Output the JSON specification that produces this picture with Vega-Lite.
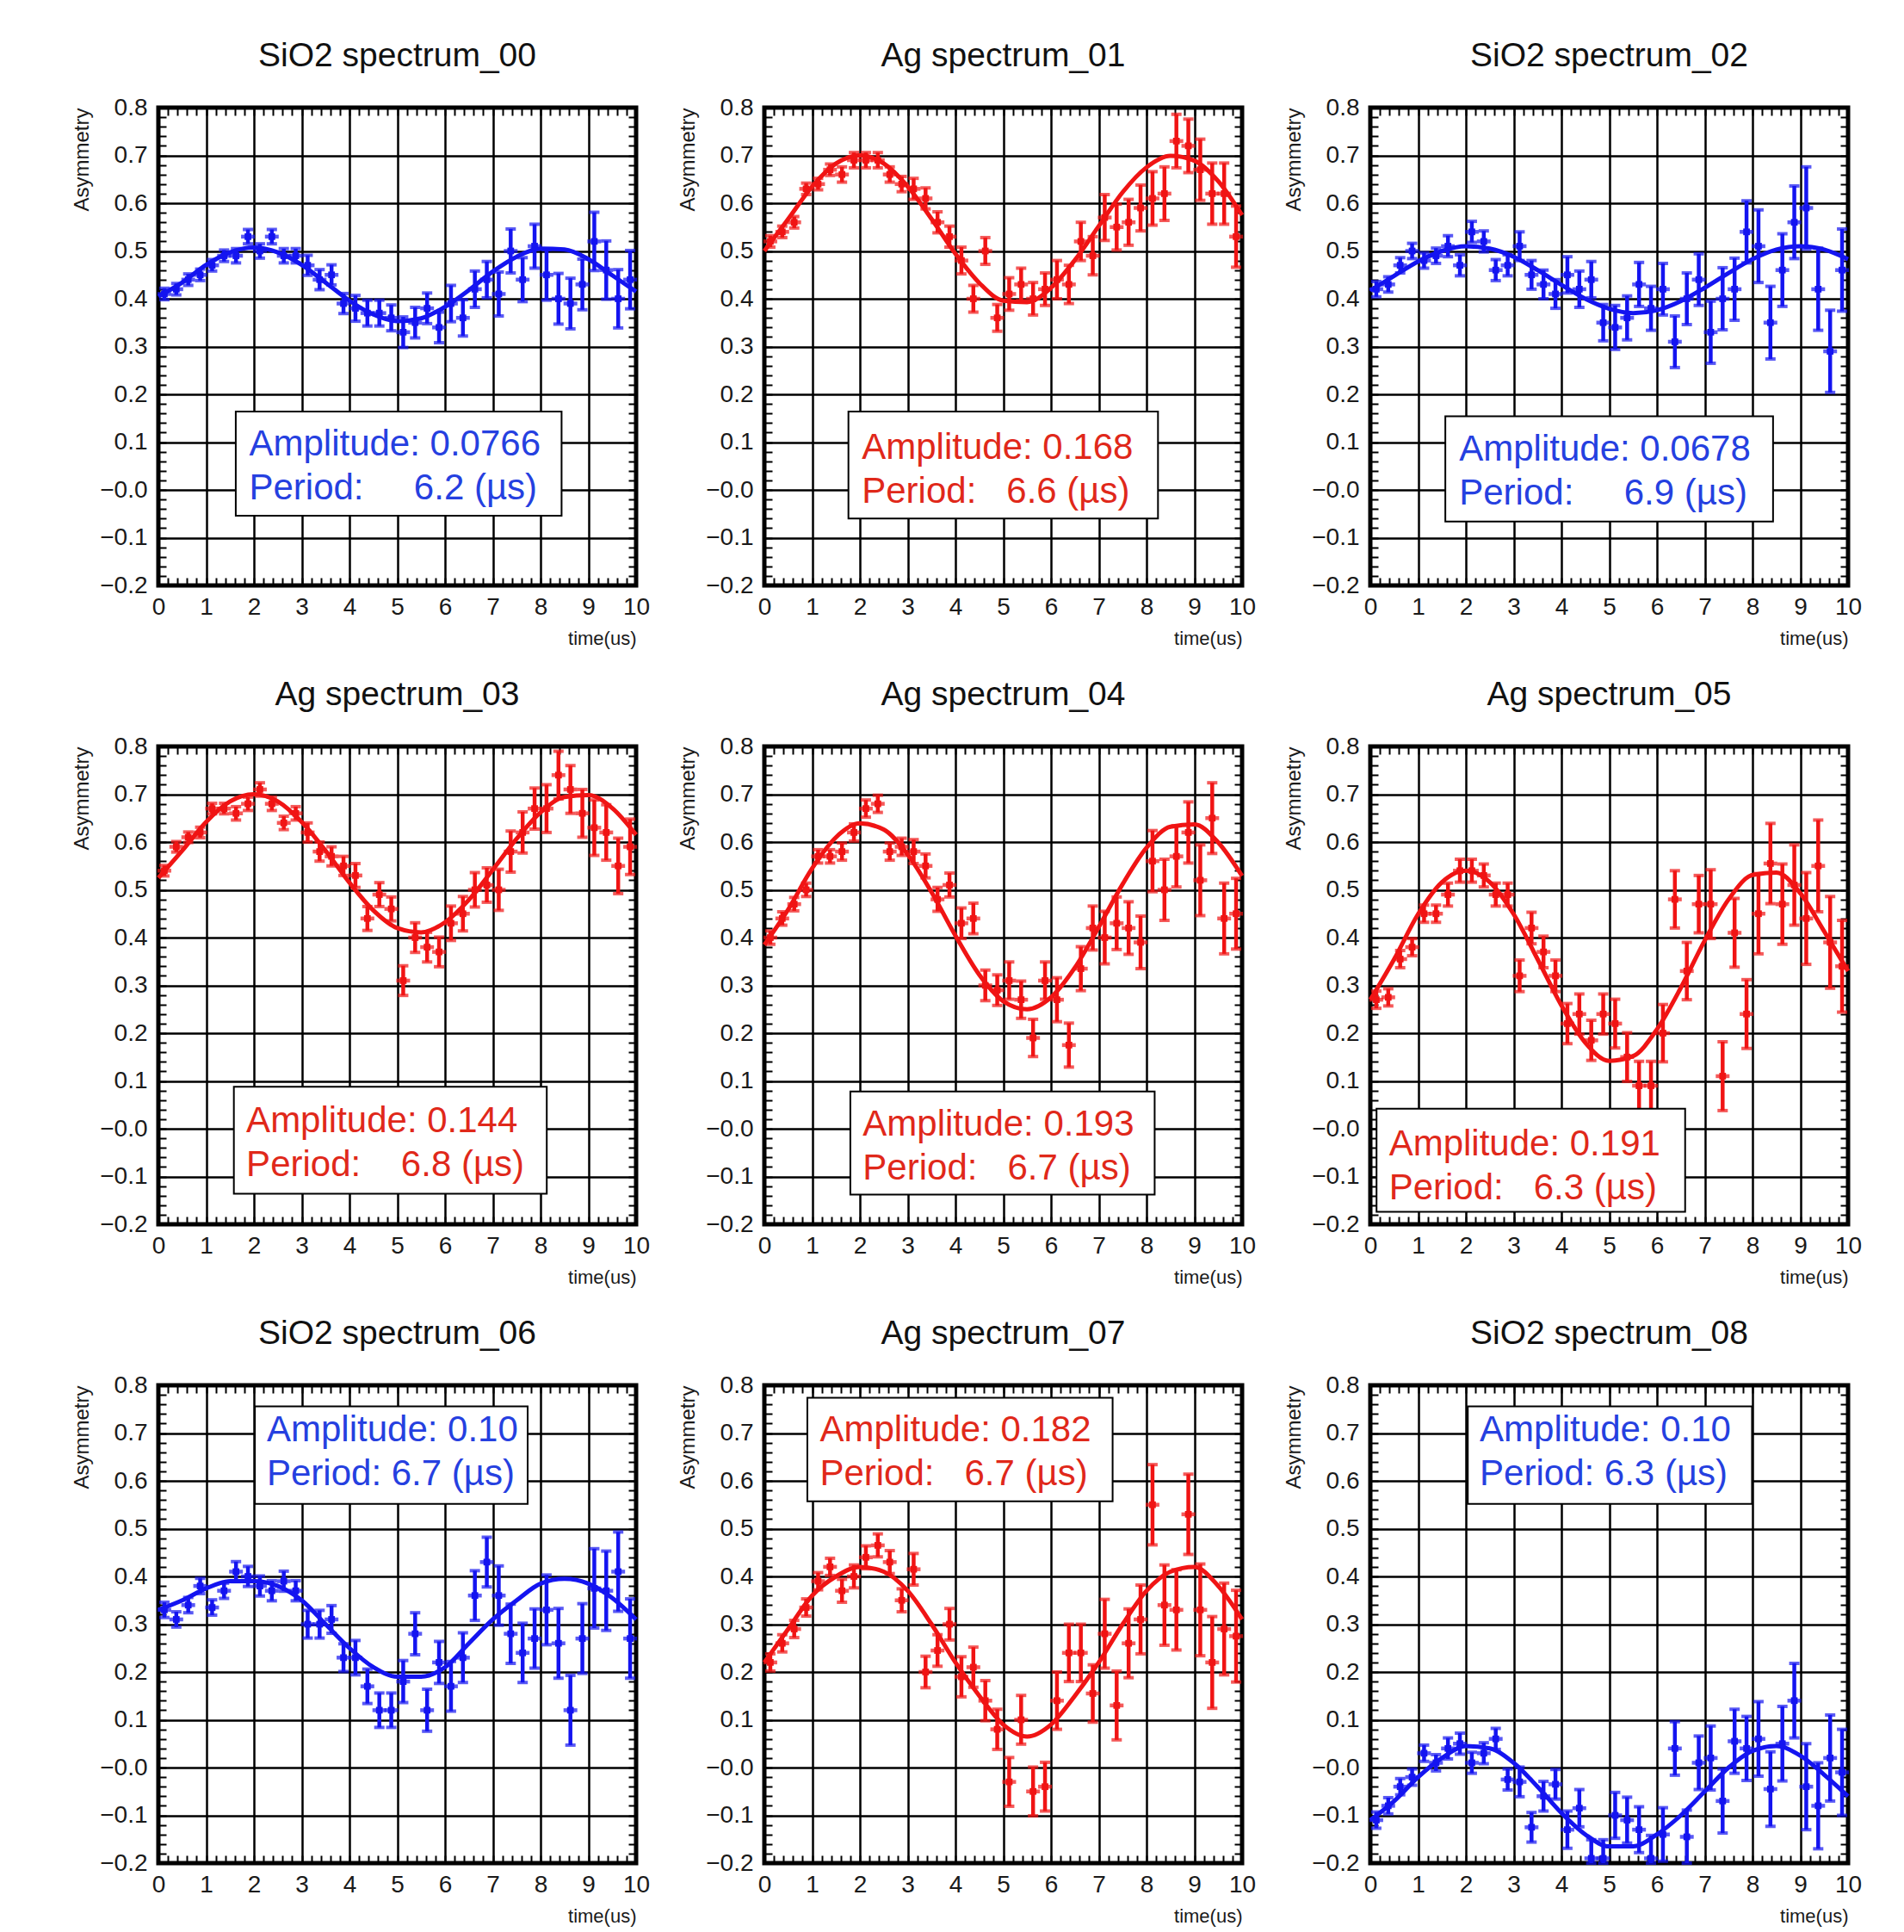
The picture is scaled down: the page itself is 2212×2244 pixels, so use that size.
{
"$schema":"https://vega.github.io/schema/vega-lite/v6.json",
"background":"white",
"padding":{"left":81,"top":43,"right":10,"bottom":2},
"datasets":{
"pts":[
{"p":"00","t":0.125,"y":0.41,"e":0.012},{"p":"00","t":0.375,"y":0.42,"e":0.012},{"p":"00","t":0.625,"y":0.44,"e":0.012},{"p":"00","t":0.875,"y":0.45,"e":0.012},{"p":"00","t":1.125,"y":0.47,"e":0.012},{"p":"00","t":1.375,"y":0.49,"e":0.012},{"p":"00","t":1.625,"y":0.49,"e":0.015},{"p":"00","t":1.875,"y":0.53,"e":0.015},{"p":"00","t":2.125,"y":0.50,"e":0.015},{"p":"00","t":2.375,"y":0.53,"e":0.015},{"p":"00","t":2.625,"y":0.49,"e":0.015},{"p":"00","t":2.875,"y":0.49,"e":0.015},{"p":"00","t":3.125,"y":0.47,"e":0.021},{"p":"00","t":3.375,"y":0.44,"e":0.021},{"p":"00","t":3.625,"y":0.45,"e":0.021},{"p":"00","t":3.875,"y":0.39,"e":0.021},{"p":"00","t":4.125,"y":0.38,"e":0.027},{"p":"00","t":4.375,"y":0.37,"e":0.027},{"p":"00","t":4.625,"y":0.37,"e":0.027},{"p":"00","t":4.875,"y":0.36,"e":0.027},{"p":"00","t":5.125,"y":0.33,"e":0.032},{"p":"00","t":5.375,"y":0.35,"e":0.032},{"p":"00","t":5.625,"y":0.38,"e":0.032},{"p":"00","t":5.875,"y":0.34,"e":0.032},{"p":"00","t":6.125,"y":0.39,"e":0.038},{"p":"00","t":6.375,"y":0.36,"e":0.038},{"p":"00","t":6.625,"y":0.42,"e":0.038},{"p":"00","t":6.875,"y":0.44,"e":0.038},{"p":"00","t":7.125,"y":0.41,"e":0.046},{"p":"00","t":7.375,"y":0.50,"e":0.046},{"p":"00","t":7.625,"y":0.44,"e":0.046},{"p":"00","t":7.875,"y":0.51,"e":0.046},{"p":"00","t":8.125,"y":0.45,"e":0.053},{"p":"00","t":8.375,"y":0.40,"e":0.053},{"p":"00","t":8.625,"y":0.39,"e":0.053},{"p":"00","t":8.875,"y":0.43,"e":0.053},{"p":"00","t":9.125,"y":0.52,"e":0.061},{"p":"00","t":9.375,"y":0.46,"e":0.061},{"p":"00","t":9.625,"y":0.40,"e":0.061},{"p":"00","t":9.875,"y":0.44,"e":0.061},
{"p":"01","t":0.125,"y":0.52,"e":0.012},{"p":"01","t":0.375,"y":0.54,"e":0.012},{"p":"01","t":0.625,"y":0.56,"e":0.012},{"p":"01","t":0.875,"y":0.63,"e":0.012},{"p":"01","t":1.125,"y":0.64,"e":0.012},{"p":"01","t":1.375,"y":0.67,"e":0.012},{"p":"01","t":1.625,"y":0.66,"e":0.016},{"p":"01","t":1.875,"y":0.69,"e":0.016},{"p":"01","t":2.125,"y":0.69,"e":0.016},{"p":"01","t":2.375,"y":0.69,"e":0.016},{"p":"01","t":2.625,"y":0.66,"e":0.016},{"p":"01","t":2.875,"y":0.64,"e":0.016},{"p":"01","t":3.125,"y":0.63,"e":0.022},{"p":"01","t":3.375,"y":0.61,"e":0.022},{"p":"01","t":3.625,"y":0.56,"e":0.022},{"p":"01","t":3.875,"y":0.53,"e":0.022},{"p":"01","t":4.125,"y":0.48,"e":0.028},{"p":"01","t":4.375,"y":0.40,"e":0.028},{"p":"01","t":4.625,"y":0.50,"e":0.028},{"p":"01","t":4.875,"y":0.36,"e":0.028},{"p":"01","t":5.125,"y":0.41,"e":0.034},{"p":"01","t":5.375,"y":0.43,"e":0.034},{"p":"01","t":5.625,"y":0.40,"e":0.034},{"p":"01","t":5.875,"y":0.42,"e":0.034},{"p":"01","t":6.125,"y":0.44,"e":0.040},{"p":"01","t":6.375,"y":0.43,"e":0.040},{"p":"01","t":6.625,"y":0.52,"e":0.040},{"p":"01","t":6.875,"y":0.49,"e":0.040},{"p":"01","t":7.125,"y":0.57,"e":0.048},{"p":"01","t":7.375,"y":0.55,"e":0.048},{"p":"01","t":7.625,"y":0.56,"e":0.048},{"p":"01","t":7.875,"y":0.59,"e":0.048},{"p":"01","t":8.125,"y":0.61,"e":0.056},{"p":"01","t":8.375,"y":0.62,"e":0.056},{"p":"01","t":8.625,"y":0.73,"e":0.056},{"p":"01","t":8.875,"y":0.72,"e":0.056},{"p":"01","t":9.125,"y":0.67,"e":0.064},{"p":"01","t":9.375,"y":0.62,"e":0.064},{"p":"01","t":9.625,"y":0.62,"e":0.064},{"p":"01","t":9.875,"y":0.53,"e":0.064},
{"p":"02","t":0.125,"y":0.42,"e":0.016},{"p":"02","t":0.375,"y":0.43,"e":0.016},{"p":"02","t":0.625,"y":0.47,"e":0.016},{"p":"02","t":0.875,"y":0.50,"e":0.016},{"p":"02","t":1.125,"y":0.48,"e":0.016},{"p":"02","t":1.375,"y":0.49,"e":0.016},{"p":"02","t":1.625,"y":0.51,"e":0.022},{"p":"02","t":1.875,"y":0.47,"e":0.022},{"p":"02","t":2.125,"y":0.54,"e":0.022},{"p":"02","t":2.375,"y":0.52,"e":0.022},{"p":"02","t":2.625,"y":0.46,"e":0.022},{"p":"02","t":2.875,"y":0.47,"e":0.022},{"p":"02","t":3.125,"y":0.51,"e":0.030},{"p":"02","t":3.375,"y":0.45,"e":0.030},{"p":"02","t":3.625,"y":0.43,"e":0.030},{"p":"02","t":3.875,"y":0.41,"e":0.030},{"p":"02","t":4.125,"y":0.45,"e":0.038},{"p":"02","t":4.375,"y":0.42,"e":0.038},{"p":"02","t":4.625,"y":0.44,"e":0.038},{"p":"02","t":4.875,"y":0.35,"e":0.038},{"p":"02","t":5.125,"y":0.34,"e":0.046},{"p":"02","t":5.375,"y":0.36,"e":0.046},{"p":"02","t":5.625,"y":0.43,"e":0.046},{"p":"02","t":5.875,"y":0.38,"e":0.046},{"p":"02","t":6.125,"y":0.42,"e":0.054},{"p":"02","t":6.375,"y":0.31,"e":0.054},{"p":"02","t":6.625,"y":0.40,"e":0.054},{"p":"02","t":6.875,"y":0.44,"e":0.054},{"p":"02","t":7.125,"y":0.33,"e":0.065},{"p":"02","t":7.375,"y":0.40,"e":0.065},{"p":"02","t":7.625,"y":0.42,"e":0.065},{"p":"02","t":7.875,"y":0.54,"e":0.065},{"p":"02","t":8.125,"y":0.51,"e":0.076},{"p":"02","t":8.375,"y":0.35,"e":0.076},{"p":"02","t":8.625,"y":0.46,"e":0.076},{"p":"02","t":8.875,"y":0.56,"e":0.076},{"p":"02","t":9.125,"y":0.59,"e":0.086},{"p":"02","t":9.375,"y":0.42,"e":0.086},{"p":"02","t":9.625,"y":0.29,"e":0.086},{"p":"02","t":9.875,"y":0.46,"e":0.086},
{"p":"03","t":0.125,"y":0.54,"e":0.011},{"p":"03","t":0.375,"y":0.59,"e":0.011},{"p":"03","t":0.625,"y":0.61,"e":0.011},{"p":"03","t":0.875,"y":0.62,"e":0.011},{"p":"03","t":1.125,"y":0.67,"e":0.011},{"p":"03","t":1.375,"y":0.67,"e":0.011},{"p":"03","t":1.625,"y":0.66,"e":0.014},{"p":"03","t":1.875,"y":0.68,"e":0.014},{"p":"03","t":2.125,"y":0.71,"e":0.014},{"p":"03","t":2.375,"y":0.68,"e":0.014},{"p":"03","t":2.625,"y":0.64,"e":0.014},{"p":"03","t":2.875,"y":0.66,"e":0.014},{"p":"03","t":3.125,"y":0.62,"e":0.020},{"p":"03","t":3.375,"y":0.58,"e":0.020},{"p":"03","t":3.625,"y":0.57,"e":0.020},{"p":"03","t":3.875,"y":0.55,"e":0.020},{"p":"03","t":4.125,"y":0.53,"e":0.025},{"p":"03","t":4.375,"y":0.44,"e":0.025},{"p":"03","t":4.625,"y":0.49,"e":0.025},{"p":"03","t":4.875,"y":0.46,"e":0.025},{"p":"03","t":5.125,"y":0.31,"e":0.031},{"p":"03","t":5.375,"y":0.40,"e":0.031},{"p":"03","t":5.625,"y":0.38,"e":0.031},{"p":"03","t":5.875,"y":0.37,"e":0.031},{"p":"03","t":6.125,"y":0.43,"e":0.036},{"p":"03","t":6.375,"y":0.45,"e":0.036},{"p":"03","t":6.625,"y":0.50,"e":0.036},{"p":"03","t":6.875,"y":0.51,"e":0.036},{"p":"03","t":7.125,"y":0.50,"e":0.043},{"p":"03","t":7.375,"y":0.58,"e":0.043},{"p":"03","t":7.625,"y":0.62,"e":0.043},{"p":"03","t":7.875,"y":0.67,"e":0.043},{"p":"03","t":8.125,"y":0.67,"e":0.050},{"p":"03","t":8.375,"y":0.74,"e":0.050},{"p":"03","t":8.625,"y":0.71,"e":0.050},{"p":"03","t":8.875,"y":0.66,"e":0.050},{"p":"03","t":9.125,"y":0.63,"e":0.058},{"p":"03","t":9.375,"y":0.62,"e":0.058},{"p":"03","t":9.625,"y":0.55,"e":0.058},{"p":"03","t":9.875,"y":0.59,"e":0.058},
{"p":"04","t":0.125,"y":0.40,"e":0.014},{"p":"04","t":0.375,"y":0.44,"e":0.014},{"p":"04","t":0.625,"y":0.47,"e":0.014},{"p":"04","t":0.875,"y":0.50,"e":0.014},{"p":"04","t":1.125,"y":0.57,"e":0.014},{"p":"04","t":1.375,"y":0.57,"e":0.014},{"p":"04","t":1.625,"y":0.58,"e":0.018},{"p":"04","t":1.875,"y":0.62,"e":0.018},{"p":"04","t":2.125,"y":0.67,"e":0.018},{"p":"04","t":2.375,"y":0.68,"e":0.018},{"p":"04","t":2.625,"y":0.58,"e":0.018},{"p":"04","t":2.875,"y":0.59,"e":0.018},{"p":"04","t":3.125,"y":0.58,"e":0.025},{"p":"04","t":3.375,"y":0.55,"e":0.025},{"p":"04","t":3.625,"y":0.48,"e":0.025},{"p":"04","t":3.875,"y":0.51,"e":0.025},{"p":"04","t":4.125,"y":0.43,"e":0.032},{"p":"04","t":4.375,"y":0.44,"e":0.032},{"p":"04","t":4.625,"y":0.30,"e":0.032},{"p":"04","t":4.875,"y":0.29,"e":0.032},{"p":"04","t":5.125,"y":0.31,"e":0.039},{"p":"04","t":5.375,"y":0.27,"e":0.039},{"p":"04","t":5.625,"y":0.19,"e":0.039},{"p":"04","t":5.875,"y":0.31,"e":0.039},{"p":"04","t":6.125,"y":0.27,"e":0.046},{"p":"04","t":6.375,"y":0.175,"e":0.046},{"p":"04","t":6.625,"y":0.335,"e":0.046},{"p":"04","t":6.875,"y":0.42,"e":0.046},{"p":"04","t":7.125,"y":0.40,"e":0.055},{"p":"04","t":7.375,"y":0.43,"e":0.055},{"p":"04","t":7.625,"y":0.42,"e":0.055},{"p":"04","t":7.875,"y":0.39,"e":0.055},{"p":"04","t":8.125,"y":0.56,"e":0.064},{"p":"04","t":8.375,"y":0.50,"e":0.064},{"p":"04","t":8.625,"y":0.57,"e":0.064},{"p":"04","t":8.875,"y":0.62,"e":0.064},{"p":"04","t":9.125,"y":0.52,"e":0.074},{"p":"04","t":9.375,"y":0.65,"e":0.074},{"p":"04","t":9.625,"y":0.44,"e":0.074},{"p":"04","t":9.875,"y":0.45,"e":0.074},
{"p":"05","t":0.125,"y":0.27,"e":0.018},{"p":"05","t":0.375,"y":0.275,"e":0.018},{"p":"05","t":0.625,"y":0.355,"e":0.018},{"p":"05","t":0.875,"y":0.38,"e":0.018},{"p":"05","t":1.125,"y":0.45,"e":0.018},{"p":"05","t":1.375,"y":0.45,"e":0.018},{"p":"05","t":1.625,"y":0.49,"e":0.024},{"p":"05","t":1.875,"y":0.54,"e":0.024},{"p":"05","t":2.125,"y":0.54,"e":0.024},{"p":"05","t":2.375,"y":0.53,"e":0.024},{"p":"05","t":2.625,"y":0.49,"e":0.024},{"p":"05","t":2.875,"y":0.49,"e":0.024},{"p":"05","t":3.125,"y":0.32,"e":0.033},{"p":"05","t":3.375,"y":0.42,"e":0.033},{"p":"05","t":3.625,"y":0.37,"e":0.033},{"p":"05","t":3.875,"y":0.32,"e":0.033},{"p":"05","t":4.125,"y":0.22,"e":0.042},{"p":"05","t":4.375,"y":0.24,"e":0.042},{"p":"05","t":4.625,"y":0.185,"e":0.042},{"p":"05","t":4.875,"y":0.24,"e":0.042},{"p":"05","t":5.125,"y":0.22,"e":0.051},{"p":"05","t":5.375,"y":0.15,"e":0.051},{"p":"05","t":5.625,"y":0.09,"e":0.051},{"p":"05","t":5.875,"y":0.09,"e":0.051},{"p":"05","t":6.125,"y":0.20,"e":0.060},{"p":"05","t":6.375,"y":0.48,"e":0.060},{"p":"05","t":6.625,"y":0.33,"e":0.060},{"p":"05","t":6.875,"y":0.47,"e":0.060},{"p":"05","t":7.125,"y":0.47,"e":0.072},{"p":"05","t":7.375,"y":0.11,"e":0.072},{"p":"05","t":7.625,"y":0.41,"e":0.072},{"p":"05","t":7.875,"y":0.24,"e":0.072},{"p":"05","t":8.125,"y":0.45,"e":0.084},{"p":"05","t":8.375,"y":0.555,"e":0.084},{"p":"05","t":8.625,"y":0.47,"e":0.084},{"p":"05","t":8.875,"y":0.51,"e":0.084},{"p":"05","t":9.125,"y":0.44,"e":0.096},{"p":"05","t":9.375,"y":0.55,"e":0.096},{"p":"05","t":9.625,"y":0.39,"e":0.096},{"p":"05","t":9.875,"y":0.34,"e":0.096},
{"p":"06","t":0.125,"y":0.33,"e":0.016},{"p":"06","t":0.375,"y":0.31,"e":0.016},{"p":"06","t":0.625,"y":0.34,"e":0.016},{"p":"06","t":0.875,"y":0.38,"e":0.016},{"p":"06","t":1.125,"y":0.335,"e":0.016},{"p":"06","t":1.375,"y":0.37,"e":0.016},{"p":"06","t":1.625,"y":0.41,"e":0.021},{"p":"06","t":1.875,"y":0.40,"e":0.021},{"p":"06","t":2.125,"y":0.38,"e":0.021},{"p":"06","t":2.375,"y":0.37,"e":0.021},{"p":"06","t":2.625,"y":0.39,"e":0.021},{"p":"06","t":2.875,"y":0.37,"e":0.021},{"p":"06","t":3.125,"y":0.30,"e":0.029},{"p":"06","t":3.375,"y":0.30,"e":0.029},{"p":"06","t":3.625,"y":0.31,"e":0.029},{"p":"06","t":3.875,"y":0.23,"e":0.029},{"p":"06","t":4.125,"y":0.23,"e":0.036},{"p":"06","t":4.375,"y":0.17,"e":0.036},{"p":"06","t":4.625,"y":0.12,"e":0.036},{"p":"06","t":4.875,"y":0.12,"e":0.036},{"p":"06","t":5.125,"y":0.18,"e":0.044},{"p":"06","t":5.375,"y":0.28,"e":0.044},{"p":"06","t":5.625,"y":0.12,"e":0.044},{"p":"06","t":5.875,"y":0.22,"e":0.044},{"p":"06","t":6.125,"y":0.17,"e":0.052},{"p":"06","t":6.375,"y":0.23,"e":0.052},{"p":"06","t":6.625,"y":0.36,"e":0.052},{"p":"06","t":6.875,"y":0.43,"e":0.052},{"p":"06","t":7.125,"y":0.36,"e":0.062},{"p":"06","t":7.375,"y":0.28,"e":0.062},{"p":"06","t":7.625,"y":0.24,"e":0.062},{"p":"06","t":7.875,"y":0.27,"e":0.062},{"p":"06","t":8.125,"y":0.33,"e":0.073},{"p":"06","t":8.375,"y":0.26,"e":0.073},{"p":"06","t":8.625,"y":0.12,"e":0.073},{"p":"06","t":8.875,"y":0.27,"e":0.073},{"p":"06","t":9.125,"y":0.375,"e":0.083},{"p":"06","t":9.375,"y":0.37,"e":0.083},{"p":"06","t":9.625,"y":0.41,"e":0.083},{"p":"06","t":9.875,"y":0.27,"e":0.083},
{"p":"07","t":0.125,"y":0.22,"e":0.018},{"p":"07","t":0.375,"y":0.26,"e":0.018},{"p":"07","t":0.625,"y":0.29,"e":0.018},{"p":"07","t":0.875,"y":0.335,"e":0.018},{"p":"07","t":1.125,"y":0.39,"e":0.018},{"p":"07","t":1.375,"y":0.42,"e":0.018},{"p":"07","t":1.625,"y":0.37,"e":0.024},{"p":"07","t":1.875,"y":0.40,"e":0.024},{"p":"07","t":2.125,"y":0.44,"e":0.024},{"p":"07","t":2.375,"y":0.465,"e":0.024},{"p":"07","t":2.625,"y":0.43,"e":0.024},{"p":"07","t":2.875,"y":0.35,"e":0.024},{"p":"07","t":3.125,"y":0.415,"e":0.033},{"p":"07","t":3.375,"y":0.20,"e":0.033},{"p":"07","t":3.625,"y":0.245,"e":0.033},{"p":"07","t":3.875,"y":0.30,"e":0.033},{"p":"07","t":4.125,"y":0.19,"e":0.042},{"p":"07","t":4.375,"y":0.21,"e":0.042},{"p":"07","t":4.625,"y":0.14,"e":0.042},{"p":"07","t":4.875,"y":0.08,"e":0.042},{"p":"07","t":5.125,"y":-0.03,"e":0.051},{"p":"07","t":5.375,"y":0.10,"e":0.051},{"p":"07","t":5.625,"y":-0.05,"e":0.051},{"p":"07","t":5.875,"y":-0.04,"e":0.051},{"p":"07","t":6.125,"y":0.14,"e":0.060},{"p":"07","t":6.375,"y":0.24,"e":0.060},{"p":"07","t":6.625,"y":0.24,"e":0.060},{"p":"07","t":6.875,"y":0.155,"e":0.060},{"p":"07","t":7.125,"y":0.28,"e":0.072},{"p":"07","t":7.375,"y":0.13,"e":0.072},{"p":"07","t":7.625,"y":0.26,"e":0.072},{"p":"07","t":7.875,"y":0.31,"e":0.072},{"p":"07","t":8.125,"y":0.55,"e":0.084},{"p":"07","t":8.375,"y":0.34,"e":0.084},{"p":"07","t":8.625,"y":0.33,"e":0.084},{"p":"07","t":8.875,"y":0.53,"e":0.084},{"p":"07","t":9.125,"y":0.33,"e":0.096},{"p":"07","t":9.375,"y":0.22,"e":0.096},{"p":"07","t":9.625,"y":0.29,"e":0.096},{"p":"07","t":9.875,"y":0.275,"e":0.096},
{"p":"08","t":0.125,"y":-0.11,"e":0.017},{"p":"08","t":0.375,"y":-0.08,"e":0.017},{"p":"08","t":0.625,"y":-0.04,"e":0.017},{"p":"08","t":0.875,"y":-0.02,"e":0.017},{"p":"08","t":1.125,"y":0.03,"e":0.017},{"p":"08","t":1.375,"y":0.01,"e":0.017},{"p":"08","t":1.625,"y":0.04,"e":0.022},{"p":"08","t":1.875,"y":0.05,"e":0.022},{"p":"08","t":2.125,"y":0.01,"e":0.022},{"p":"08","t":2.375,"y":0.03,"e":0.022},{"p":"08","t":2.625,"y":0.06,"e":0.022},{"p":"08","t":2.875,"y":-0.025,"e":0.022},{"p":"08","t":3.125,"y":-0.03,"e":0.031},{"p":"08","t":3.375,"y":-0.125,"e":0.031},{"p":"08","t":3.625,"y":-0.06,"e":0.031},{"p":"08","t":3.875,"y":-0.035,"e":0.031},{"p":"08","t":4.125,"y":-0.13,"e":0.039},{"p":"08","t":4.375,"y":-0.085,"e":0.039},{"p":"08","t":4.625,"y":-0.19,"e":0.039},{"p":"08","t":4.875,"y":-0.19,"e":0.039},{"p":"08","t":5.125,"y":-0.10,"e":0.048},{"p":"08","t":5.375,"y":-0.11,"e":0.048},{"p":"08","t":5.625,"y":-0.13,"e":0.048},{"p":"08","t":5.875,"y":-0.19,"e":0.048},{"p":"08","t":6.125,"y":-0.14,"e":0.056},{"p":"08","t":6.375,"y":0.04,"e":0.056},{"p":"08","t":6.625,"y":-0.145,"e":0.056},{"p":"08","t":6.875,"y":0.01,"e":0.056},{"p":"08","t":7.125,"y":0.02,"e":0.067},{"p":"08","t":7.375,"y":-0.07,"e":0.067},{"p":"08","t":7.625,"y":0.055,"e":0.067},{"p":"08","t":7.875,"y":0.04,"e":0.067},{"p":"08","t":8.125,"y":0.06,"e":0.078},{"p":"08","t":8.375,"y":-0.045,"e":0.078},{"p":"08","t":8.625,"y":0.05,"e":0.078},{"p":"08","t":8.875,"y":0.14,"e":0.078},{"p":"08","t":9.125,"y":-0.04,"e":0.090},{"p":"08","t":9.375,"y":-0.08,"e":0.090},{"p":"08","t":9.625,"y":0.02,"e":0.090},{"p":"08","t":9.875,"y":-0.01,"e":0.090}
],
"fit":[
{"p":"00","t":0,"y":0.405},{"p":"00","t":0.5,"y":0.434},{"p":"00","t":1,"y":0.471},{"p":"00","t":1.5,"y":0.497},{"p":"00","t":2,"y":0.507},{"p":"00","t":2.5,"y":0.497},{"p":"00","t":3,"y":0.471},{"p":"00","t":3.5,"y":0.434},{"p":"00","t":4,"y":0.396},{"p":"00","t":4.5,"y":0.367},{"p":"00","t":5,"y":0.353},{"p":"00","t":5.5,"y":0.359},{"p":"00","t":6,"y":0.383},{"p":"00","t":6.5,"y":0.418},{"p":"00","t":7,"y":0.457},{"p":"00","t":7.5,"y":0.488},{"p":"00","t":8,"y":0.505},{"p":"00","t":8.5,"y":0.503},{"p":"00","t":9,"y":0.483},{"p":"00","t":9.5,"y":0.449},{"p":"00","t":10,"y":0.415},
{"p":"01","t":0,"y":0.50},{"p":"01","t":0.5,"y":0.567},{"p":"01","t":1,"y":0.635},{"p":"01","t":1.5,"y":0.683},{"p":"01","t":2,"y":0.700},{"p":"01","t":2.5,"y":0.683},{"p":"01","t":3,"y":0.635},{"p":"01","t":3.5,"y":0.567},{"p":"01","t":4,"y":0.494},{"p":"01","t":4.5,"y":0.433},{"p":"01","t":5,"y":0.396},{"p":"01","t":5.5,"y":0.393},{"p":"01","t":6,"y":0.423},{"p":"01","t":6.5,"y":0.481},{"p":"01","t":7,"y":0.552},{"p":"01","t":7.5,"y":0.623},{"p":"01","t":8,"y":0.675},{"p":"01","t":8.5,"y":0.699},{"p":"01","t":9,"y":0.689},{"p":"01","t":9.5,"y":0.646},{"p":"01","t":10,"y":0.575},
{"p":"02","t":0,"y":0.417},{"p":"02","t":0.5,"y":0.448},{"p":"02","t":1,"y":0.478},{"p":"02","t":1.5,"y":0.500},{"p":"02","t":2,"y":0.510},{"p":"02","t":2.5,"y":0.505},{"p":"02","t":3,"y":0.488},{"p":"02","t":3.5,"y":0.460},{"p":"02","t":4,"y":0.429},{"p":"02","t":4.5,"y":0.400},{"p":"02","t":5,"y":0.379},{"p":"02","t":5.5,"y":0.370},{"p":"02","t":6,"y":0.376},{"p":"02","t":6.5,"y":0.395},{"p":"02","t":7,"y":0.423},{"p":"02","t":7.5,"y":0.454},{"p":"02","t":8,"y":0.483},{"p":"02","t":8.5,"y":0.503},{"p":"02","t":9,"y":0.510},{"p":"02","t":9.5,"y":0.503},{"p":"02","t":10,"y":0.483},
{"p":"03","t":0,"y":0.525},{"p":"03","t":0.5,"y":0.582},{"p":"03","t":1,"y":0.642},{"p":"03","t":1.5,"y":0.685},{"p":"03","t":2,"y":0.700},{"p":"03","t":2.5,"y":0.685},{"p":"03","t":3,"y":0.642},{"p":"03","t":3.5,"y":0.582},{"p":"03","t":4,"y":0.515},{"p":"03","t":4.5,"y":0.457},{"p":"03","t":5,"y":0.420},{"p":"03","t":5.5,"y":0.411},{"p":"03","t":6,"y":0.432},{"p":"03","t":6.5,"y":0.479},{"p":"03","t":7,"y":0.542},{"p":"03","t":7.5,"y":0.607},{"p":"03","t":8,"y":0.662},{"p":"03","t":8.5,"y":0.694},{"p":"03","t":9,"y":0.698},{"p":"03","t":9.5,"y":0.671},{"p":"03","t":10,"y":0.615},
{"p":"04","t":0,"y":0.385},{"p":"04","t":0.5,"y":0.459},{"p":"04","t":1,"y":0.545},{"p":"04","t":1.5,"y":0.610},{"p":"04","t":2,"y":0.639},{"p":"04","t":2.5,"y":0.626},{"p":"04","t":3,"y":0.574},{"p":"04","t":3.5,"y":0.495},{"p":"04","t":4,"y":0.404},{"p":"04","t":4.5,"y":0.322},{"p":"04","t":5,"y":0.267},{"p":"04","t":5.5,"y":0.250},{"p":"04","t":6,"y":0.275},{"p":"04","t":6.5,"y":0.337},{"p":"04","t":7,"y":0.422},{"p":"04","t":7.5,"y":0.512},{"p":"04","t":8,"y":0.588},{"p":"04","t":8.5,"y":0.632},{"p":"04","t":9,"y":0.637},{"p":"04","t":9.5,"y":0.599},{"p":"04","t":10,"y":0.529},
{"p":"05","t":0,"y":0.27},{"p":"05","t":0.5,"y":0.355},{"p":"05","t":1,"y":0.449},{"p":"05","t":1.5,"y":0.516},{"p":"05","t":2,"y":0.540},{"p":"05","t":2.5,"y":0.516},{"p":"05","t":3,"y":0.449},{"p":"05","t":3.5,"y":0.355},{"p":"05","t":4,"y":0.258},{"p":"05","t":4.5,"y":0.180},{"p":"05","t":5,"y":0.142},{"p":"05","t":5.5,"y":0.152},{"p":"05","t":6,"y":0.208},{"p":"05","t":6.5,"y":0.295},{"p":"05","t":7,"y":0.394},{"p":"05","t":7.5,"y":0.480},{"p":"05","t":8,"y":0.531},{"p":"05","t":8.5,"y":0.536},{"p":"05","t":9,"y":0.493},{"p":"05","t":9.5,"y":0.413},{"p":"05","t":10,"y":0.33},
{"p":"06","t":0,"y":0.33},{"p":"06","t":0.5,"y":0.35},{"p":"06","t":1,"y":0.375},{"p":"06","t":1.5,"y":0.39},{"p":"06","t":2,"y":0.39},{"p":"06","t":2.5,"y":0.38},{"p":"06","t":3,"y":0.35},{"p":"06","t":3.5,"y":0.30},{"p":"06","t":4,"y":0.25},{"p":"06","t":4.5,"y":0.21},{"p":"06","t":5,"y":0.19},{"p":"06","t":5.5,"y":0.19},{"p":"06","t":6,"y":0.21},{"p":"06","t":6.5,"y":0.26},{"p":"06","t":7,"y":0.31},{"p":"06","t":7.5,"y":0.35},{"p":"06","t":8,"y":0.385},{"p":"06","t":8.5,"y":0.395},{"p":"06","t":9,"y":0.385},{"p":"06","t":9.5,"y":0.355},{"p":"06","t":10,"y":0.31},
{"p":"07","t":0,"y":0.22},{"p":"07","t":0.5,"y":0.29},{"p":"07","t":1,"y":0.36},{"p":"07","t":1.5,"y":0.40},{"p":"07","t":2,"y":0.42},{"p":"07","t":2.5,"y":0.41},{"p":"07","t":3,"y":0.37},{"p":"07","t":3.5,"y":0.30},{"p":"07","t":4,"y":0.22},{"p":"07","t":4.5,"y":0.15},{"p":"07","t":5,"y":0.09},{"p":"07","t":5.5,"y":0.065},{"p":"07","t":6,"y":0.09},{"p":"07","t":6.5,"y":0.15},{"p":"07","t":7,"y":0.22},{"p":"07","t":7.5,"y":0.30},{"p":"07","t":8,"y":0.37},{"p":"07","t":8.5,"y":0.41},{"p":"07","t":9,"y":0.42},{"p":"07","t":9.5,"y":0.38},{"p":"07","t":10,"y":0.31},
{"p":"08","t":0,"y":-0.11},{"p":"08","t":0.5,"y":-0.07},{"p":"08","t":1,"y":-0.02},{"p":"08","t":1.5,"y":0.02},{"p":"08","t":2,"y":0.045},{"p":"08","t":2.5,"y":0.04},{"p":"08","t":3,"y":0.01},{"p":"08","t":3.5,"y":-0.04},{"p":"08","t":4,"y":-0.095},{"p":"08","t":4.5,"y":-0.14},{"p":"08","t":5,"y":-0.165},{"p":"08","t":5.5,"y":-0.165},{"p":"08","t":6,"y":-0.14},{"p":"08","t":6.5,"y":-0.10},{"p":"08","t":7,"y":-0.05},{"p":"08","t":7.5,"y":0.00},{"p":"08","t":8,"y":0.035},{"p":"08","t":8.5,"y":0.045},{"p":"08","t":9,"y":0.025},{"p":"08","t":9.5,"y":-0.015},{"p":"08","t":10,"y":-0.06}
]
},
"columns":3,
"spacing":{"row":30,"column":27},
"concat":[
{"title":"SiO2 spectrum_00","width":555,"height":555,
 "layer":[
  {"encoding":{"x":{"field":"t","type":"quantitative","scale":{"domain":[0,10],"nice":false,"zero":false},"axis":{"orient":"bottom","title":"time(us)","labelExpr":"abs(datum.value-round(datum.value))<0.001 ? format(datum.value,'d') : ''","gridOpacity":{"condition":{"test":"abs(datum.value-round(datum.value))<0.001","value":1},"value":0}}},
    "y":{"field":"y","type":"quantitative","scale":{"domain":[-0.2,0.8],"nice":false,"zero":false,"clamp":true},"axis":{"orient":"left","title":"Asymmetry","labelExpr":"abs(datum.value*10-round(datum.value*10))<0.001 ? (datum.value<0.01 ? '−'+format(abs(datum.value),'.1f') : format(datum.value,'.1f')) : ''","gridOpacity":{"condition":{"test":"abs(datum.value*10-round(datum.value*10))<0.001","value":1},"value":0}}}},
   "layer":[
   {"data":{"name":"pts"},"transform":[{"filter":"datum.p=='00'"}],"mark":{"type":"errorbar","ticks":{"size":12,"thickness":4},"thickness":4.5,"color":"#1414f0"},"encoding":{"yError":{"field":"e"}}},
   {"data":{"name":"pts"},"transform":[{"filter":"datum.p=='00'"}],"mark":{"type":"tick","orient":"horizontal","size":16,"thickness":4.5,"color":"#1414f0"}},
   {"data":{"name":"pts"},"transform":[{"filter":"datum.p=='00'"}],"mark":{"type":"point","shape":"square","filled":true,"size":60,"opacity":1,"color":"#1414f0"}},
   {"data":{"name":"fit"},"transform":[{"filter":"datum.p=='00'"}],"mark":{"type":"line","interpolate":"monotone","strokeWidth":5,"color":"#1414f0"}}
  ]},
  {"data":{"values":[{}]},"mark":{"type":"rect","fill":"white","stroke":"black","strokeWidth":2},"encoding":{"x":{"datum":1.62,"type":"quantitative","axis":null},"x2":{"datum":8.44},"y":{"datum":0.164,"type":"quantitative","axis":null},"y2":{"datum":-0.054}}},
  {"data":{"values":[{}]},"mark":{"type":"text","align":"left","baseline":"middle","fontSize":42,"lineHeight":51,"color":"#2540e0","text":["Amplitude: 0.0766","Period:\u00a0\u00a0\u00a0\u00a0\u00a06.2 (µs)"]},"encoding":{"x":{"datum":1.9,"type":"quantitative","axis":null},"y":{"datum":0.095,"type":"quantitative","axis":null}}},
  {"data":{"name":"fit"},"transform":[{"filter":"datum.p=='00'"}],"mark":{"type":"point","opacity":0},"encoding":{"x":{"field":"t","type":"quantitative","scale":{"domain":[0,10],"nice":false,"zero":false},"axis":{"orient":"top","title":null,"labels":false,"grid":false}},"y":{"field":"y","type":"quantitative","scale":{"domain":[-0.2,0.8],"nice":false,"zero":false,"clamp":true},"axis":{"orient":"right","title":null,"labels":false,"grid":false}}}}
 ],
 "resolve":{"axis":{"x":"independent","y":"independent"}}
},
{"title":"Ag spectrum_01","width":555,"height":555,
 "layer":[
  {"encoding":{"x":{"field":"t","type":"quantitative","scale":{"domain":[0,10],"nice":false,"zero":false},"axis":{"orient":"bottom","title":"time(us)","labelExpr":"abs(datum.value-round(datum.value))<0.001 ? format(datum.value,'d') : ''","gridOpacity":{"condition":{"test":"abs(datum.value-round(datum.value))<0.001","value":1},"value":0}}},
    "y":{"field":"y","type":"quantitative","scale":{"domain":[-0.2,0.8],"nice":false,"zero":false,"clamp":true},"axis":{"orient":"left","title":"Asymmetry","labelExpr":"abs(datum.value*10-round(datum.value*10))<0.001 ? (datum.value<0.01 ? '−'+format(abs(datum.value),'.1f') : format(datum.value,'.1f')) : ''","gridOpacity":{"condition":{"test":"abs(datum.value*10-round(datum.value*10))<0.001","value":1},"value":0}}}},
   "layer":[
   {"data":{"name":"pts"},"transform":[{"filter":"datum.p=='01'"}],"mark":{"type":"errorbar","ticks":{"size":12,"thickness":4},"thickness":4.5,"color":"#f01414"},"encoding":{"yError":{"field":"e"}}},
   {"data":{"name":"pts"},"transform":[{"filter":"datum.p=='01'"}],"mark":{"type":"tick","orient":"horizontal","size":16,"thickness":4.5,"color":"#f01414"}},
   {"data":{"name":"pts"},"transform":[{"filter":"datum.p=='01'"}],"mark":{"type":"point","shape":"square","filled":true,"size":60,"opacity":1,"color":"#f01414"}},
   {"data":{"name":"fit"},"transform":[{"filter":"datum.p=='01'"}],"mark":{"type":"line","interpolate":"monotone","strokeWidth":5,"color":"#f01414"}}
  ]},
  {"data":{"values":[{}]},"mark":{"type":"rect","fill":"white","stroke":"black","strokeWidth":2},"encoding":{"x":{"datum":1.76,"type":"quantitative","axis":null},"x2":{"datum":8.24},"y":{"datum":0.164,"type":"quantitative","axis":null},"y2":{"datum":-0.06}}},
  {"data":{"values":[{}]},"mark":{"type":"text","align":"left","baseline":"middle","fontSize":42,"lineHeight":51,"color":"#e0281a","text":["Amplitude: 0.168","Period:\u00a0\u00a0\u00a06.6 (µs)"]},"encoding":{"x":{"datum":2.04,"type":"quantitative","axis":null},"y":{"datum":0.089,"type":"quantitative","axis":null}}},
  {"data":{"name":"fit"},"transform":[{"filter":"datum.p=='01'"}],"mark":{"type":"point","opacity":0},"encoding":{"x":{"field":"t","type":"quantitative","scale":{"domain":[0,10],"nice":false,"zero":false},"axis":{"orient":"top","title":null,"labels":false,"grid":false}},"y":{"field":"y","type":"quantitative","scale":{"domain":[-0.2,0.8],"nice":false,"zero":false,"clamp":true},"axis":{"orient":"right","title":null,"labels":false,"grid":false}}}}
 ],
 "resolve":{"axis":{"x":"independent","y":"independent"}}
},
{"title":"SiO2 spectrum_02","width":555,"height":555,
 "layer":[
  {"encoding":{"x":{"field":"t","type":"quantitative","scale":{"domain":[0,10],"nice":false,"zero":false},"axis":{"orient":"bottom","title":"time(us)","labelExpr":"abs(datum.value-round(datum.value))<0.001 ? format(datum.value,'d') : ''","gridOpacity":{"condition":{"test":"abs(datum.value-round(datum.value))<0.001","value":1},"value":0}}},
    "y":{"field":"y","type":"quantitative","scale":{"domain":[-0.2,0.8],"nice":false,"zero":false,"clamp":true},"axis":{"orient":"left","title":"Asymmetry","labelExpr":"abs(datum.value*10-round(datum.value*10))<0.001 ? (datum.value<0.01 ? '−'+format(abs(datum.value),'.1f') : format(datum.value,'.1f')) : ''","gridOpacity":{"condition":{"test":"abs(datum.value*10-round(datum.value*10))<0.001","value":1},"value":0}}}},
   "layer":[
   {"data":{"name":"pts"},"transform":[{"filter":"datum.p=='02'"}],"mark":{"type":"errorbar","ticks":{"size":12,"thickness":4},"thickness":4.5,"color":"#1414f0"},"encoding":{"yError":{"field":"e"}}},
   {"data":{"name":"pts"},"transform":[{"filter":"datum.p=='02'"}],"mark":{"type":"tick","orient":"horizontal","size":16,"thickness":4.5,"color":"#1414f0"}},
   {"data":{"name":"pts"},"transform":[{"filter":"datum.p=='02'"}],"mark":{"type":"point","shape":"square","filled":true,"size":60,"opacity":1,"color":"#1414f0"}},
   {"data":{"name":"fit"},"transform":[{"filter":"datum.p=='02'"}],"mark":{"type":"line","interpolate":"monotone","strokeWidth":5,"color":"#1414f0"}}
  ]},
  {"data":{"values":[{}]},"mark":{"type":"rect","fill":"white","stroke":"black","strokeWidth":2},"encoding":{"x":{"datum":1.57,"type":"quantitative","axis":null},"x2":{"datum":8.43},"y":{"datum":0.154,"type":"quantitative","axis":null},"y2":{"datum":-0.066}}},
  {"data":{"values":[{}]},"mark":{"type":"text","align":"left","baseline":"middle","fontSize":42,"lineHeight":51,"color":"#2540e0","text":["Amplitude: 0.0678","Period:\u00a0\u00a0\u00a0\u00a0\u00a06.9 (µs)"]},"encoding":{"x":{"datum":1.86,"type":"quantitative","axis":null},"y":{"datum":0.084,"type":"quantitative","axis":null}}},
  {"data":{"name":"fit"},"transform":[{"filter":"datum.p=='02'"}],"mark":{"type":"point","opacity":0},"encoding":{"x":{"field":"t","type":"quantitative","scale":{"domain":[0,10],"nice":false,"zero":false},"axis":{"orient":"top","title":null,"labels":false,"grid":false}},"y":{"field":"y","type":"quantitative","scale":{"domain":[-0.2,0.8],"nice":false,"zero":false,"clamp":true},"axis":{"orient":"right","title":null,"labels":false,"grid":false}}}}
 ],
 "resolve":{"axis":{"x":"independent","y":"independent"}}
},
{"title":"Ag spectrum_03","width":555,"height":555,
 "layer":[
  {"encoding":{"x":{"field":"t","type":"quantitative","scale":{"domain":[0,10],"nice":false,"zero":false},"axis":{"orient":"bottom","title":"time(us)","labelExpr":"abs(datum.value-round(datum.value))<0.001 ? format(datum.value,'d') : ''","gridOpacity":{"condition":{"test":"abs(datum.value-round(datum.value))<0.001","value":1},"value":0}}},
    "y":{"field":"y","type":"quantitative","scale":{"domain":[-0.2,0.8],"nice":false,"zero":false,"clamp":true},"axis":{"orient":"left","title":"Asymmetry","labelExpr":"abs(datum.value*10-round(datum.value*10))<0.001 ? (datum.value<0.01 ? '−'+format(abs(datum.value),'.1f') : format(datum.value,'.1f')) : ''","gridOpacity":{"condition":{"test":"abs(datum.value*10-round(datum.value*10))<0.001","value":1},"value":0}}}},
   "layer":[
   {"data":{"name":"pts"},"transform":[{"filter":"datum.p=='03'"}],"mark":{"type":"errorbar","ticks":{"size":12,"thickness":4},"thickness":4.5,"color":"#f01414"},"encoding":{"yError":{"field":"e"}}},
   {"data":{"name":"pts"},"transform":[{"filter":"datum.p=='03'"}],"mark":{"type":"tick","orient":"horizontal","size":16,"thickness":4.5,"color":"#f01414"}},
   {"data":{"name":"pts"},"transform":[{"filter":"datum.p=='03'"}],"mark":{"type":"point","shape":"square","filled":true,"size":60,"opacity":1,"color":"#f01414"}},
   {"data":{"name":"fit"},"transform":[{"filter":"datum.p=='03'"}],"mark":{"type":"line","interpolate":"monotone","strokeWidth":5,"color":"#f01414"}}
  ]},
  {"data":{"values":[{}]},"mark":{"type":"rect","fill":"white","stroke":"black","strokeWidth":2},"encoding":{"x":{"datum":1.58,"type":"quantitative","axis":null},"x2":{"datum":8.13},"y":{"datum":0.088,"type":"quantitative","axis":null},"y2":{"datum":-0.136}}},
  {"data":{"values":[{}]},"mark":{"type":"text","align":"left","baseline":"middle","fontSize":42,"lineHeight":51,"color":"#e0281a","text":["Amplitude: 0.144","Period:\u00a0\u00a0\u00a0\u00a06.8 (µs)"]},"encoding":{"x":{"datum":1.84,"type":"quantitative","axis":null},"y":{"datum":0.016,"type":"quantitative","axis":null}}},
  {"data":{"name":"fit"},"transform":[{"filter":"datum.p=='03'"}],"mark":{"type":"point","opacity":0},"encoding":{"x":{"field":"t","type":"quantitative","scale":{"domain":[0,10],"nice":false,"zero":false},"axis":{"orient":"top","title":null,"labels":false,"grid":false}},"y":{"field":"y","type":"quantitative","scale":{"domain":[-0.2,0.8],"nice":false,"zero":false,"clamp":true},"axis":{"orient":"right","title":null,"labels":false,"grid":false}}}}
 ],
 "resolve":{"axis":{"x":"independent","y":"independent"}}
},
{"title":"Ag spectrum_04","width":555,"height":555,
 "layer":[
  {"encoding":{"x":{"field":"t","type":"quantitative","scale":{"domain":[0,10],"nice":false,"zero":false},"axis":{"orient":"bottom","title":"time(us)","labelExpr":"abs(datum.value-round(datum.value))<0.001 ? format(datum.value,'d') : ''","gridOpacity":{"condition":{"test":"abs(datum.value-round(datum.value))<0.001","value":1},"value":0}}},
    "y":{"field":"y","type":"quantitative","scale":{"domain":[-0.2,0.8],"nice":false,"zero":false,"clamp":true},"axis":{"orient":"left","title":"Asymmetry","labelExpr":"abs(datum.value*10-round(datum.value*10))<0.001 ? (datum.value<0.01 ? '−'+format(abs(datum.value),'.1f') : format(datum.value,'.1f')) : ''","gridOpacity":{"condition":{"test":"abs(datum.value*10-round(datum.value*10))<0.001","value":1},"value":0}}}},
   "layer":[
   {"data":{"name":"pts"},"transform":[{"filter":"datum.p=='04'"}],"mark":{"type":"errorbar","ticks":{"size":12,"thickness":4},"thickness":4.5,"color":"#f01414"},"encoding":{"yError":{"field":"e"}}},
   {"data":{"name":"pts"},"transform":[{"filter":"datum.p=='04'"}],"mark":{"type":"tick","orient":"horizontal","size":16,"thickness":4.5,"color":"#f01414"}},
   {"data":{"name":"pts"},"transform":[{"filter":"datum.p=='04'"}],"mark":{"type":"point","shape":"square","filled":true,"size":60,"opacity":1,"color":"#f01414"}},
   {"data":{"name":"fit"},"transform":[{"filter":"datum.p=='04'"}],"mark":{"type":"line","interpolate":"monotone","strokeWidth":5,"color":"#f01414"}}
  ]},
  {"data":{"values":[{}]},"mark":{"type":"rect","fill":"white","stroke":"black","strokeWidth":2},"encoding":{"x":{"datum":1.80,"type":"quantitative","axis":null},"x2":{"datum":8.17},"y":{"datum":0.078,"type":"quantitative","axis":null},"y2":{"datum":-0.138}}},
  {"data":{"values":[{}]},"mark":{"type":"text","align":"left","baseline":"middle","fontSize":42,"lineHeight":51,"color":"#e0281a","text":["Amplitude: 0.193","Period:\u00a0\u00a0\u00a06.7 (µs)"]},"encoding":{"x":{"datum":2.06,"type":"quantitative","axis":null},"y":{"datum":0.009,"type":"quantitative","axis":null}}},
  {"data":{"name":"fit"},"transform":[{"filter":"datum.p=='04'"}],"mark":{"type":"point","opacity":0},"encoding":{"x":{"field":"t","type":"quantitative","scale":{"domain":[0,10],"nice":false,"zero":false},"axis":{"orient":"top","title":null,"labels":false,"grid":false}},"y":{"field":"y","type":"quantitative","scale":{"domain":[-0.2,0.8],"nice":false,"zero":false,"clamp":true},"axis":{"orient":"right","title":null,"labels":false,"grid":false}}}}
 ],
 "resolve":{"axis":{"x":"independent","y":"independent"}}
},
{"title":"Ag spectrum_05","width":555,"height":555,
 "layer":[
  {"encoding":{"x":{"field":"t","type":"quantitative","scale":{"domain":[0,10],"nice":false,"zero":false},"axis":{"orient":"bottom","title":"time(us)","labelExpr":"abs(datum.value-round(datum.value))<0.001 ? format(datum.value,'d') : ''","gridOpacity":{"condition":{"test":"abs(datum.value-round(datum.value))<0.001","value":1},"value":0}}},
    "y":{"field":"y","type":"quantitative","scale":{"domain":[-0.2,0.8],"nice":false,"zero":false,"clamp":true},"axis":{"orient":"left","title":"Asymmetry","labelExpr":"abs(datum.value*10-round(datum.value*10))<0.001 ? (datum.value<0.01 ? '−'+format(abs(datum.value),'.1f') : format(datum.value,'.1f')) : ''","gridOpacity":{"condition":{"test":"abs(datum.value*10-round(datum.value*10))<0.001","value":1},"value":0}}}},
   "layer":[
   {"data":{"name":"pts"},"transform":[{"filter":"datum.p=='05'"}],"mark":{"type":"errorbar","ticks":{"size":12,"thickness":4},"thickness":4.5,"color":"#f01414"},"encoding":{"yError":{"field":"e"}}},
   {"data":{"name":"pts"},"transform":[{"filter":"datum.p=='05'"}],"mark":{"type":"tick","orient":"horizontal","size":16,"thickness":4.5,"color":"#f01414"}},
   {"data":{"name":"pts"},"transform":[{"filter":"datum.p=='05'"}],"mark":{"type":"point","shape":"square","filled":true,"size":60,"opacity":1,"color":"#f01414"}},
   {"data":{"name":"fit"},"transform":[{"filter":"datum.p=='05'"}],"mark":{"type":"line","interpolate":"monotone","strokeWidth":5,"color":"#f01414"}}
  ]},
  {"data":{"values":[{}]},"mark":{"type":"rect","fill":"white","stroke":"black","strokeWidth":2},"encoding":{"x":{"datum":0.13,"type":"quantitative","axis":null},"x2":{"datum":6.59},"y":{"datum":0.042,"type":"quantitative","axis":null},"y2":{"datum":-0.174}}},
  {"data":{"values":[{}]},"mark":{"type":"text","align":"left","baseline":"middle","fontSize":42,"lineHeight":51,"color":"#e0281a","text":["Amplitude: 0.191","Period:\u00a0\u00a0\u00a06.3 (µs)"]},"encoding":{"x":{"datum":0.39,"type":"quantitative","axis":null},"y":{"datum":-0.0325,"type":"quantitative","axis":null}}},
  {"data":{"name":"fit"},"transform":[{"filter":"datum.p=='05'"}],"mark":{"type":"point","opacity":0},"encoding":{"x":{"field":"t","type":"quantitative","scale":{"domain":[0,10],"nice":false,"zero":false},"axis":{"orient":"top","title":null,"labels":false,"grid":false}},"y":{"field":"y","type":"quantitative","scale":{"domain":[-0.2,0.8],"nice":false,"zero":false,"clamp":true},"axis":{"orient":"right","title":null,"labels":false,"grid":false}}}}
 ],
 "resolve":{"axis":{"x":"independent","y":"independent"}}
},
{"title":"SiO2 spectrum_06","width":555,"height":555,
 "layer":[
  {"encoding":{"x":{"field":"t","type":"quantitative","scale":{"domain":[0,10],"nice":false,"zero":false},"axis":{"orient":"bottom","title":"time(us)","labelExpr":"abs(datum.value-round(datum.value))<0.001 ? format(datum.value,'d') : ''","gridOpacity":{"condition":{"test":"abs(datum.value-round(datum.value))<0.001","value":1},"value":0}}},
    "y":{"field":"y","type":"quantitative","scale":{"domain":[-0.2,0.8],"nice":false,"zero":false,"clamp":true},"axis":{"orient":"left","title":"Asymmetry","labelExpr":"abs(datum.value*10-round(datum.value*10))<0.001 ? (datum.value<0.01 ? '−'+format(abs(datum.value),'.1f') : format(datum.value,'.1f')) : ''","gridOpacity":{"condition":{"test":"abs(datum.value*10-round(datum.value*10))<0.001","value":1},"value":0}}}},
   "layer":[
   {"data":{"name":"pts"},"transform":[{"filter":"datum.p=='06'"}],"mark":{"type":"errorbar","ticks":{"size":12,"thickness":4},"thickness":4.5,"color":"#1414f0"},"encoding":{"yError":{"field":"e"}}},
   {"data":{"name":"pts"},"transform":[{"filter":"datum.p=='06'"}],"mark":{"type":"tick","orient":"horizontal","size":16,"thickness":4.5,"color":"#1414f0"}},
   {"data":{"name":"pts"},"transform":[{"filter":"datum.p=='06'"}],"mark":{"type":"point","shape":"square","filled":true,"size":60,"opacity":1,"color":"#1414f0"}},
   {"data":{"name":"fit"},"transform":[{"filter":"datum.p=='06'"}],"mark":{"type":"line","interpolate":"monotone","strokeWidth":5,"color":"#1414f0"}}
  ]},
  {"data":{"values":[{}]},"mark":{"type":"rect","fill":"white","stroke":"black","strokeWidth":2},"encoding":{"x":{"datum":2.02,"type":"quantitative","axis":null},"x2":{"datum":7.73},"y":{"datum":0.756,"type":"quantitative","axis":null},"y2":{"datum":0.552}}},
  {"data":{"values":[{}]},"mark":{"type":"text","align":"left","baseline":"middle","fontSize":42,"lineHeight":51,"color":"#2540e0","text":["Amplitude: 0.10","Period: 6.7 (µs)"]},"encoding":{"x":{"datum":2.27,"type":"quantitative","axis":null},"y":{"datum":0.707,"type":"quantitative","axis":null}}},
  {"data":{"name":"fit"},"transform":[{"filter":"datum.p=='06'"}],"mark":{"type":"point","opacity":0},"encoding":{"x":{"field":"t","type":"quantitative","scale":{"domain":[0,10],"nice":false,"zero":false},"axis":{"orient":"top","title":null,"labels":false,"grid":false}},"y":{"field":"y","type":"quantitative","scale":{"domain":[-0.2,0.8],"nice":false,"zero":false,"clamp":true},"axis":{"orient":"right","title":null,"labels":false,"grid":false}}}}
 ],
 "resolve":{"axis":{"x":"independent","y":"independent"}}
},
{"title":"Ag spectrum_07","width":555,"height":555,
 "layer":[
  {"encoding":{"x":{"field":"t","type":"quantitative","scale":{"domain":[0,10],"nice":false,"zero":false},"axis":{"orient":"bottom","title":"time(us)","labelExpr":"abs(datum.value-round(datum.value))<0.001 ? format(datum.value,'d') : ''","gridOpacity":{"condition":{"test":"abs(datum.value-round(datum.value))<0.001","value":1},"value":0}}},
    "y":{"field":"y","type":"quantitative","scale":{"domain":[-0.2,0.8],"nice":false,"zero":false,"clamp":true},"axis":{"orient":"left","title":"Asymmetry","labelExpr":"abs(datum.value*10-round(datum.value*10))<0.001 ? (datum.value<0.01 ? '−'+format(abs(datum.value),'.1f') : format(datum.value,'.1f')) : ''","gridOpacity":{"condition":{"test":"abs(datum.value*10-round(datum.value*10))<0.001","value":1},"value":0}}}},
   "layer":[
   {"data":{"name":"pts"},"transform":[{"filter":"datum.p=='07'"}],"mark":{"type":"errorbar","ticks":{"size":12,"thickness":4},"thickness":4.5,"color":"#f01414"},"encoding":{"yError":{"field":"e"}}},
   {"data":{"name":"pts"},"transform":[{"filter":"datum.p=='07'"}],"mark":{"type":"tick","orient":"horizontal","size":16,"thickness":4.5,"color":"#f01414"}},
   {"data":{"name":"pts"},"transform":[{"filter":"datum.p=='07'"}],"mark":{"type":"point","shape":"square","filled":true,"size":60,"opacity":1,"color":"#f01414"}},
   {"data":{"name":"fit"},"transform":[{"filter":"datum.p=='07'"}],"mark":{"type":"line","interpolate":"monotone","strokeWidth":5,"color":"#f01414"}}
  ]},
  {"data":{"values":[{}]},"mark":{"type":"rect","fill":"white","stroke":"black","strokeWidth":2},"encoding":{"x":{"datum":0.90,"type":"quantitative","axis":null},"x2":{"datum":7.29},"y":{"datum":0.774,"type":"quantitative","axis":null},"y2":{"datum":0.557}}},
  {"data":{"values":[{}]},"mark":{"type":"text","align":"left","baseline":"middle","fontSize":42,"lineHeight":51,"color":"#e0281a","text":["Amplitude: 0.182","Period:\u00a0\u00a0\u00a06.7 (µs)"]},"encoding":{"x":{"datum":1.16,"type":"quantitative","axis":null},"y":{"datum":0.707,"type":"quantitative","axis":null}}},
  {"data":{"name":"fit"},"transform":[{"filter":"datum.p=='07'"}],"mark":{"type":"point","opacity":0},"encoding":{"x":{"field":"t","type":"quantitative","scale":{"domain":[0,10],"nice":false,"zero":false},"axis":{"orient":"top","title":null,"labels":false,"grid":false}},"y":{"field":"y","type":"quantitative","scale":{"domain":[-0.2,0.8],"nice":false,"zero":false,"clamp":true},"axis":{"orient":"right","title":null,"labels":false,"grid":false}}}}
 ],
 "resolve":{"axis":{"x":"independent","y":"independent"}}
},
{"title":"SiO2 spectrum_08","width":555,"height":555,
 "layer":[
  {"encoding":{"x":{"field":"t","type":"quantitative","scale":{"domain":[0,10],"nice":false,"zero":false},"axis":{"orient":"bottom","title":"time(us)","labelExpr":"abs(datum.value-round(datum.value))<0.001 ? format(datum.value,'d') : ''","gridOpacity":{"condition":{"test":"abs(datum.value-round(datum.value))<0.001","value":1},"value":0}}},
    "y":{"field":"y","type":"quantitative","scale":{"domain":[-0.2,0.8],"nice":false,"zero":false,"clamp":true},"axis":{"orient":"left","title":"Asymmetry","labelExpr":"abs(datum.value*10-round(datum.value*10))<0.001 ? (datum.value<0.01 ? '−'+format(abs(datum.value),'.1f') : format(datum.value,'.1f')) : ''","gridOpacity":{"condition":{"test":"abs(datum.value*10-round(datum.value*10))<0.001","value":1},"value":0}}}},
   "layer":[
   {"data":{"name":"pts"},"transform":[{"filter":"datum.p=='08'"}],"mark":{"type":"errorbar","ticks":{"size":12,"thickness":4},"thickness":4.5,"color":"#1414f0"},"encoding":{"yError":{"field":"e"}}},
   {"data":{"name":"pts"},"transform":[{"filter":"datum.p=='08'"}],"mark":{"type":"tick","orient":"horizontal","size":16,"thickness":4.5,"color":"#1414f0"}},
   {"data":{"name":"pts"},"transform":[{"filter":"datum.p=='08'"}],"mark":{"type":"point","shape":"square","filled":true,"size":60,"opacity":1,"color":"#1414f0"}},
   {"data":{"name":"fit"},"transform":[{"filter":"datum.p=='08'"}],"mark":{"type":"line","interpolate":"monotone","strokeWidth":5,"color":"#1414f0"}}
  ]},
  {"data":{"values":[{}]},"mark":{"type":"rect","fill":"white","stroke":"black","strokeWidth":2},"encoding":{"x":{"datum":2.04,"type":"quantitative","axis":null},"x2":{"datum":7.99},"y":{"datum":0.756,"type":"quantitative","axis":null},"y2":{"datum":0.552}}},
  {"data":{"values":[{}]},"mark":{"type":"text","align":"left","baseline":"middle","fontSize":42,"lineHeight":51,"color":"#2540e0","text":["Amplitude: 0.10","Period: 6.3 (µs)"]},"encoding":{"x":{"datum":2.29,"type":"quantitative","axis":null},"y":{"datum":0.707,"type":"quantitative","axis":null}}},
  {"data":{"name":"fit"},"transform":[{"filter":"datum.p=='08'"}],"mark":{"type":"point","opacity":0},"encoding":{"x":{"field":"t","type":"quantitative","scale":{"domain":[0,10],"nice":false,"zero":false},"axis":{"orient":"top","title":null,"labels":false,"grid":false}},"y":{"field":"y","type":"quantitative","scale":{"domain":[-0.2,0.8],"nice":false,"zero":false,"clamp":true},"axis":{"orient":"right","title":null,"labels":false,"grid":false}}}}
 ],
 "resolve":{"axis":{"x":"independent","y":"independent"}}
}
],
"config":{
 "font":"Liberation Sans",
 "view":{"stroke":"black","strokeWidth":5,"fill":"white"},
 "axis":{"labelFont":"Liberation Sans","labelFontSize":28,"labelColor":"#1a1a1a","titleFont":"Liberation Sans","titleFontWeight":"normal","titleColor":"#1a1a1a","tickColor":"black","tickWidth":2,"tickSize":-9,"domain":false,"labelFlush":false,"labelOverlap":false,"tickCount":50,"grid":true,"gridColor":"black","gridWidth":2.5},
 "axisBottom":{"labelPadding":20,"titleFontSize":22,"titleAnchor":"end","titlePadding":12},
 "axisLeft":{"labelPadding":22,"titleFontSize":24,"titleAnchor":"end","titlePadding":8},
 "title":{"fontSize":39,"fontWeight":"normal","font":"Liberation Sans","color":"#111111","offset":26,"frame":"group","anchor":"middle"}
}
}
